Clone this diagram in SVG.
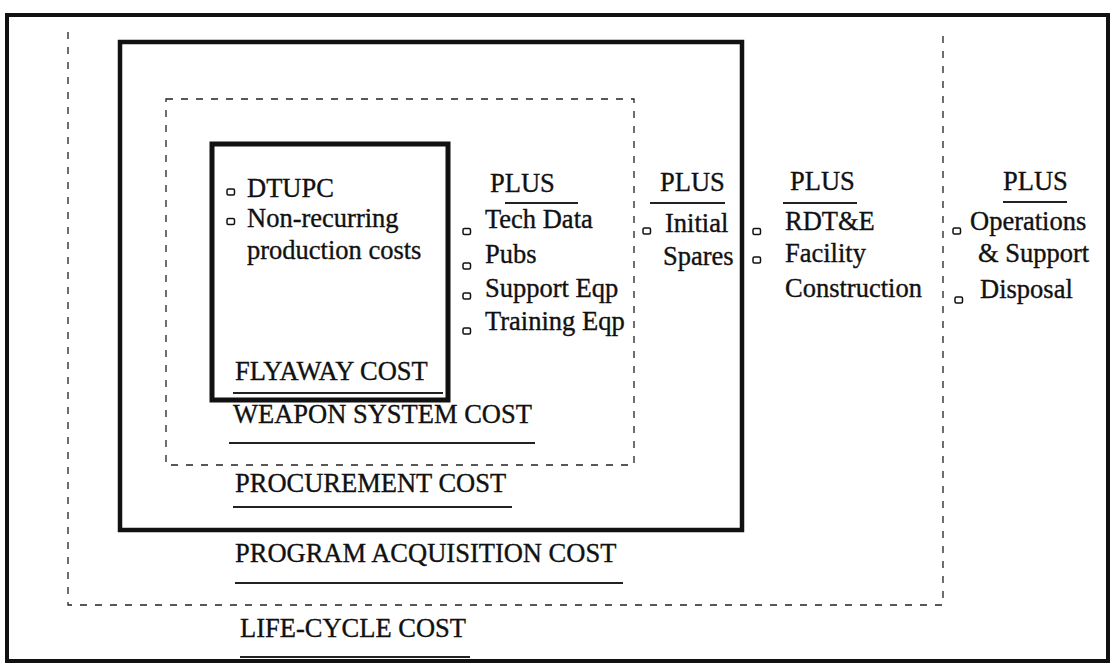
<svg xmlns="http://www.w3.org/2000/svg" width="1112" height="664" viewBox="0 0 1112 664">
<style>
text{font-family:"Liberation Serif","Times New Roman",serif;font-size:26.5px;fill:#111;stroke:#111;stroke-width:0.35}
.thick{fill:none;stroke:#111}
.dash{fill:none;stroke:#222;stroke-width:1.3;stroke-dasharray:7 8}
.ul{stroke:#222;stroke-width:1.8}
.cb{fill:none;stroke:#111;stroke-width:1.5}
</style>
<defs>
<rect id="box" x="0" y="0" width="7.5" height="6" rx="1.5" class="cb"/>
</defs>
<rect x="0" y="0" width="1112" height="664" fill="#fff"/>
<g id="frame">
<rect class="thick" x="7" y="15" width="1101" height="646" stroke-width="4"/>
</g>
<g id="life-cycle">
<path class="dash" d="M68,32 V605 H943 V30"/>
<text x="240" y="637">LIFE-CYCLE COST</text>
<line class="ul" x1="240" y1="657" x2="470" y2="657"/>
</g>
<g id="program-acquisition">
<rect class="thick" x="120" y="42" width="622" height="488" stroke-width="4.5"/>
<text x="235" y="562">PROGRAM ACQUISITION COST</text>
<line class="ul" x1="235" y1="583" x2="623" y2="583"/>
</g>
<g id="procurement">
<rect class="dash" x="166" y="99" width="468" height="366"/>
<text x="235" y="492">PROCUREMENT COST</text>
<line class="ul" x1="233" y1="507" x2="512" y2="507"/>
</g>
<g id="weapon-system">
<text x="233" y="423">WEAPON SYSTEM COST</text>
<line class="ul" x1="229" y1="443" x2="535" y2="443"/>
</g>
<g id="flyaway">
<rect class="thick" x="212" y="144" width="236" height="256" stroke-width="5"/>
<use href="#box" x="227" y="189"/>
<text x="247" y="197">DTUPC</text>
<use href="#box" x="227" y="218.5"/>
<text x="247" y="227">Non-recurring</text>
<text x="247" y="259">production costs</text>
<text x="235" y="380">FLYAWAY COST</text>
<line class="ul" x1="233" y1="393" x2="443" y2="393"/>
</g>
<g id="plus-weapon">
<text x="490" y="192">PLUS</text>
<line class="ul" x1="505" y1="203" x2="578" y2="203"/>
<use href="#box" x="463" y="228.5"/>
<text x="485" y="228">Tech Data</text>
<use href="#box" x="463" y="263"/>
<text x="485" y="263">Pubs</text>
<use href="#box" x="463" y="293"/>
<text x="485" y="297">Support Eqp</text>
<use href="#box" x="463" y="328"/>
<text x="485" y="330">Training Eqp</text>
</g>
<g id="plus-procurement">
<text x="660" y="191">PLUS</text>
<line class="ul" x1="650" y1="203" x2="725" y2="203"/>
<use href="#box" x="643" y="228"/>
<text x="665" y="232">Initial</text>
<text x="663" y="265">Spares</text>
</g>
<g id="plus-program">
<text x="790" y="190">PLUS</text>
<line class="ul" x1="783" y1="203" x2="857" y2="203"/>
<use href="#box" x="753" y="228.5"/>
<text x="785" y="230">RDT&amp;E</text>
<use href="#box" x="753" y="257"/>
<text x="785" y="262">Facility</text>
<text x="785" y="297">Construction</text>
</g>
<g id="plus-lifecycle">
<text x="1003" y="190">PLUS</text>
<line class="ul" x1="1003" y1="202" x2="1067" y2="202"/>
<use href="#box" x="953" y="228"/>
<text x="970" y="230">Operations</text>
<text x="978" y="262">&amp; Support</text>
<use href="#box" x="955" y="297"/>
<text x="980" y="298">Disposal</text>
</g>
<g id="connectors"></g>
</svg>
